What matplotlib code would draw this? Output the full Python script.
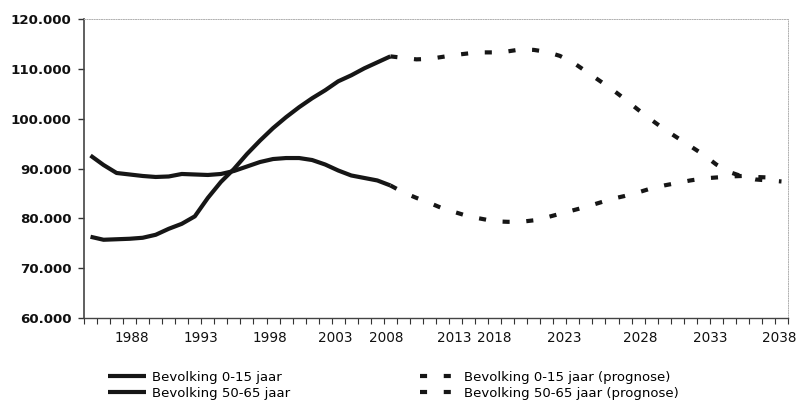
import numpy as np
import matplotlib.pyplot as plt
from matplotlib.ticker import FuncFormatter, FixedLocator

# historical years and values (x 1000 people)
years_hist = list(range(1985, 2009))
jong_hist = [92.6, 90.7, 89.1, 88.8, 88.5, 88.3, 88.4, 88.9, 88.8, 88.7, 88.9, 89.5,
             90.4, 91.3, 91.9, 92.1, 92.1, 91.7, 90.8, 89.6, 88.6, 88.1, 87.6, 86.6]
oud_hist = [76.3, 75.7, 75.8, 75.9, 76.1, 76.7, 77.9, 78.9, 80.4, 84.1, 87.3, 89.9,
            92.9, 95.6, 98.1, 100.3, 102.3, 104.1, 105.7, 107.5, 108.7, 110.1, 111.3, 112.5]

# forecast
years_prog = list(range(2008, 2039))
jong_prog = [86.6, 85.2, 84.1, 83.1, 82.0, 81.2, 80.4, 79.9, 79.4, 79.3, 79.3, 79.6,
             80.2, 80.9, 81.6, 82.3, 83.1, 83.9, 84.5, 85.2, 86.0, 86.6, 87.1, 87.6,
             88.0, 88.2, 88.4, 88.5, 88.3, 88.2, 88.0]
oud_prog = [112.5, 112.2, 111.9, 112.0, 112.4, 112.8, 113.1, 113.3, 113.3, 113.5, 113.9,
            113.8, 113.4, 112.6, 111.3, 109.5, 107.7, 105.9, 103.9, 101.8, 99.8, 97.9,
            96.2, 94.5, 92.8, 90.8, 89.3, 88.4, 87.8, 87.6, 87.4]

# tick labels (positions as they sit in the original)
xtick_labels = ['1988', '1993', '1998', '2003', '2008', '2013', '2018', '2023', '2028', '2033', '2038']
xtick_pos = [1988.2, 1993.5, 1998.8, 2003.8, 2007.7, 2012.9, 2016.0, 2021.3, 2027.2, 2032.5, 2037.8]

labels = ['Bevolking 0-15 jaar', 'Bevolking 50-65 jaar',
          'Bevolking 0-15 jaar (prognose)', 'Bevolking 50-65 jaar (prognose)']

plt.rcParams['font.family'] = ['DejaVu Sans']

fig = plt.figure(figsize=(7.96, 4.03), dpi=100)
ax = fig.add_axes([84 / 796, 1 - 318 / 403, 704 / 796, 299 / 403])

col = '#161616'
l1, = ax.plot(years_hist, np.array(jong_hist) * 1000, color=col, lw=3, solid_capstyle='butt')
l2, = ax.plot(years_hist, np.array(oud_hist) * 1000, color=col, lw=3, solid_capstyle='butt')
l3, = ax.plot(years_prog, np.array(jong_prog) * 1000, color=col, lw=3, dashes=(1.7, 4), dash_capstyle='butt')
l4, = ax.plot(years_prog, np.array(oud_prog) * 1000, color=col, lw=3, dashes=(1.7, 4), dash_capstyle='butt')

ax.set_xlim(1984.5, 2038.5)
ax.set_ylim(60000, 120000)
ax.set_yticks(np.arange(60000, 120001, 10000))
ax.yaxis.set_major_formatter(FuncFormatter(lambda v, p: f'{v:,.0f}'.replace(',', '.')))
for t in ax.get_yticklabels():
    t.set_fontweight('bold')
    t.set_fontsize(9.6)
    t.set_color('#111111')
ax.tick_params(axis='y', length=4, width=1, pad=5, color='#333333')

# category boundary ticks
ax.xaxis.set_major_locator(FixedLocator(np.arange(1984.5, 2039, 1.0)))
ax.set_xticklabels([])
ax.tick_params(axis='x', length=4, width=0.8, color='#333333')
for lab, p in zip(xtick_labels, xtick_pos):
    ax.text(p, -0.068, lab, transform=ax.get_xaxis_transform(), ha='center', va='center',
            fontsize=9.8, color='#111111')

ax.spines['left'].set_color('#444444')
ax.spines['left'].set_linewidth(1.2)
ax.spines['bottom'].set_color('#444444')
ax.spines['bottom'].set_linewidth(1.0)
for s in ['top', 'right']:
    ax.spines[s].set_color('#b0b0b0')
    ax.spines[s].set_linewidth(0.7)
    ax.spines[s].set_linestyle((0, (1, 1.5)))

fig.legend([l1, l2, l3, l4], labels, ncol=2, frameon=False, fontsize=9.5,
           loc='upper left', bbox_to_anchor=(108 / 796, 1 - 371 / 403),
           handlelength=2.9, handletextpad=0.4, columnspacing=9.9, labelspacing=0.2,
           borderpad=0, borderaxespad=0)

fig.savefig('out.png', dpi=100)
